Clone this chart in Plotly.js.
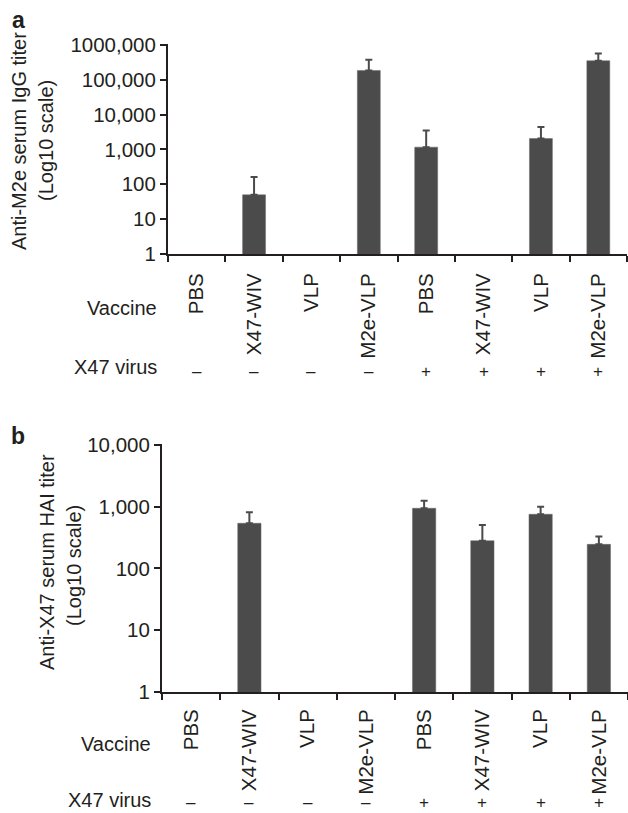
<!DOCTYPE html>
<html>
<head>
<meta charset="utf-8">
<script src="https://cdn.plot.ly/plotly-3.0.1.min.js"></script>
<style>html,body{margin:0;padding:0;background:#fff;}#chart{width:628px;height:813px;}</style>
</head>
<body>
<div id="chart"></div>
<script>
// ---- data ----
const groupIndex = [0, 1, 2, 3, 4, 5, 6, 7];
const vaccines = ["PBS", "X47-WIV", "VLP", "M2e-VLP", "PBS", "X47-WIV", "VLP", "M2e-VLP"];
const virusSigns = ["\u2013", "\u2013", "\u2013", "\u2013", "+", "+", "+", "+"];
const boundaries = [-0.5, 0.5, 1.5, 2.5, 3.5, 4.5, 5.5, 6.5, 7.5];

// panel a: anti-M2e serum IgG titer
const iggTiter = [null, 50, null, 185000, 1165, null, 2060, 351000];
const iggUpper = [null, 163, null, 376000, 3480, null, 4380, 570000];
const iggTickVals = [1, 10, 100, 1000, 10000, 100000, 1000000];
const iggTickText = ["1", "10", "100", "1,000", "10,000", "100,000", "1000,000"];

// panel b: anti-X47 serum HAI titer
const haiTiter = [null, 540, null, null, 944, 282, 755, 246];
const haiUpper = [null, 813, null, null, 1253, 506, 1000, 329];
const haiTickVals = [1, 10, 100, 1000, 10000];
const haiTickText = ["1", "10", "100", "1,000", "10,000"];

// ---- styling ----
const W = 628, H = 813;
const FONT = "Liberation Sans, Arial, Helvetica, sans-serif";
const INK = "#231f20";
const BAR = "#4b4b4b";
const px = v => v / W;
const py = v => 1 - v / H;

function errs(vals, upper) {
  return vals.map((v, i) => (v == null || upper[i] == null) ? null : upper[i] - v);
}

function barTrace(vals, upper, xa, ya) {
  return {
    type: "bar", x: groupIndex, y: vals, xaxis: xa, yaxis: ya,
    width: 0.4,
    marker: {color: BAR, line: {color: "#6a6a6a", width: 0.5}},
    error_y: {type: "data", symmetric: false, array: errs(vals, upper),
              arrayminus: vals.map(() => 0), color: BAR, thickness: 2, width: 3.5},
    showlegend: false, hoverinfo: "skip"
  };
}

function xAxis(domain, anchor, standoff) {
  return {
    domain: domain, anchor: anchor, type: "linear", range: [-0.5, 7.5],
    tickmode: "array", tickvals: groupIndex, ticktext: vaccines, tickangle: -90,
    ticks: "", showgrid: false, zeroline: false,
    showline: true, linecolor: INK, linewidth: 2,
    tickfont: {family: FONT, size: 20.5, color: INK},
    ticklabelstandoff: standoff,
    minor: {tickmode: "array", tickvals: boundaries, ticks: "outside", ticklen: 6,
            tickwidth: 2, tickcolor: INK, showgrid: false}
  };
}

function yAxis(domain, anchor, range, tv, tt) {
  return {
    domain: domain, anchor: anchor, type: "log", range: range,
    tickmode: "array", tickvals: tv, ticktext: tt,
    ticks: "outside", ticklen: 6, tickwidth: 2, tickcolor: INK,
    showline: true, linecolor: INK, linewidth: 2,
    showgrid: false, zeroline: false,
    tickfont: {family: FONT, size: 20.5, color: INK}
  };
}

const data = [
  barTrace(iggTiter, iggUpper, "x", "y"),
  barTrace(haiTiter, haiUpper, "x2", "y2")
];

const ann = [];
function txt(text, x, y, opts) {
  ann.push(Object.assign({
    text: text, x: x, y: y, xref: "paper", yref: "paper",
    showarrow: false, font: {family: FONT, size: 20, color: INK},
    xanchor: "center", yanchor: "middle"
  }, opts || {}));
}

// panel letters
txt("<b>a</b>", px(18), py(20), {font: {family: FONT, size: 23, color: INK}});
txt("<b>b</b>", px(18), py(436), {font: {family: FONT, size: 23, color: INK}});

// y-axis titles
txt("Anti-M2e serum IgG titer", px(19), py(141), {textangle: -90});
txt("(Log10 scale)", px(46), py(141), {textangle: -90});
txt("Anti-X47 serum HAI titer", px(47), py(562), {textangle: -90});
txt("(Log10 scale)", px(74), py(566), {textangle: -90});

// row labels
txt("Vaccine", px(159), py(308), {xanchor: "right"});
txt("X47 virus", px(159), py(367), {xanchor: "right"});
txt("Vaccine", px(153), py(744), {xanchor: "right"});
txt("X47 virus", px(153), py(800), {xanchor: "right"});

// +/- row
groupIndex.forEach((g, i) => {
  ann.push({text: virusSigns[i], x: g, y: py(371), xref: "x", yref: "paper",
            showarrow: false, font: {family: FONT, size: 17, color: INK},
            xanchor: "center", yanchor: "middle", borderpad: 0});
  ann.push({text: virusSigns[i], x: g, y: py(813), xref: "x2", yref: "paper",
            showarrow: false, font: {family: FONT, size: 17, color: INK},
            xanchor: "center", yanchor: "bottom", borderpad: 0});
});

const layout = {
  width: W, height: H,
  margin: {l: 0, r: 0, t: 0, b: 0},
  paper_bgcolor: "#fff", plot_bgcolor: "#fff",
  xaxis: xAxis([px(168), px(627)], "y", 9),
  yaxis: yAxis([py(254), py(43.5)], "x", [0, 6.04], iggTickVals, iggTickText),
  xaxis2: xAxis([px(162), 1], "y2", 7),
  yaxis2: yAxis([py(692), py(444)], "x2", [0, 4.016], haiTickVals, haiTickText),
  annotations: ann,
  bargap: 0.6
};

Plotly.newPlot("chart", data, layout, {displayModeBar: false, staticPlot: true});
</script>
</body>
</html>
